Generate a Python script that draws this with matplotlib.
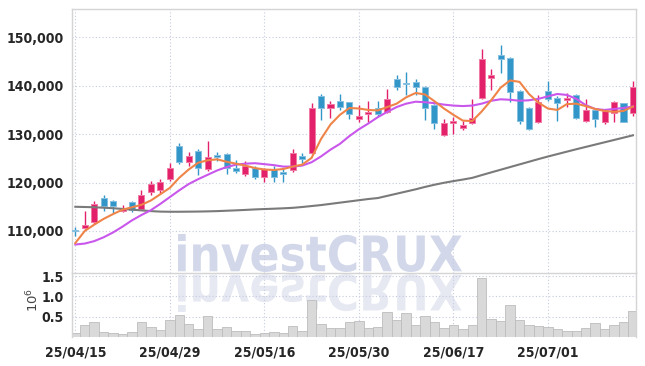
import numpy as np
import matplotlib
matplotlib.use('Agg')
from matplotlib import pyplot as plt
from matplotlib import font_manager
from matplotlib.textpath import TextPath
from matplotlib.patches import PathPatch
from matplotlib.font_manager import FontProperties
from matplotlib.transforms import Affine2D, IdentityTransform

# trading days (category axis)
dates = ['25/04/15', '25/04/16', '25/04/17', '25/04/18', '25/04/21', '25/04/22', '25/04/23', '25/04/24', '25/04/25', '25/04/28',
         '25/04/29', '25/04/30', '25/05/02', '25/05/07', '25/05/08', '25/05/09', '25/05/12', '25/05/13', '25/05/14', '25/05/15',
         '25/05/16', '25/05/19', '25/05/20', '25/05/21', '25/05/22', '25/05/23', '25/05/26', '25/05/27', '25/05/28', '25/05/29',
         '25/05/30', '25/06/02', '25/06/04', '25/06/05', '25/06/09', '25/06/10', '25/06/11', '25/06/12', '25/06/13', '25/06/16',
         '25/06/17', '25/06/18', '25/06/19', '25/06/20', '25/06/23', '25/06/24', '25/06/25', '25/06/26', '25/06/27', '25/06/30',
         '25/07/01', '25/07/02', '25/07/03', '25/07/04', '25/07/07', '25/07/08', '25/07/09', '25/07/10', '25/07/11', '25/07/14']

opens = [110000, 110600, 111800, 116800, 116200, 114200, 116000, 114500, 118000, 118500,
         120700, 127500, 124200, 126500, 122800, 125700, 125800, 123100, 121800, 123100,
         121200, 122800, 122200, 122500, 125500, 126200, 137900, 135400, 136800, 136600,
         133200, 134100, 135400, 134500, 141400, 140600, 140700, 139700, 136100, 129900,
         132400, 131300, 132400, 137500, 141700, 146300, 145800, 138900, 135500, 132600,
         139000, 137500, 137000, 138100, 132800, 135000, 132600, 134400, 136400, 134300]
highs = [110900, 114100, 116200, 117400, 116400, 115400, 116100, 118400, 120300, 120700,
         124000, 128100, 126300, 127000, 128600, 126400, 126200, 124600, 124400, 123400,
         123100, 123400, 123100, 126900, 126200, 136400, 138200, 136800, 138200, 136700,
         136100, 136900, 136900, 139300, 142200, 142900, 141400, 139900, 136300, 133100,
         133500, 132800, 137200, 147500, 143500, 148400, 145900, 139100, 135700, 138100,
         141000, 137900, 138400, 138200, 137200, 135100, 135000, 136800, 136500, 141000]
lows = [109000, 110400, 111400, 114200, 113800, 113900, 114000, 114300, 117400, 117900,
        120400, 123800, 123500, 121600, 122300, 124400, 121800, 121900, 121300, 120700,
        120200, 120100, 120100, 122100, 124000, 126000, 132900, 133400, 135000, 133100,
        132600, 132600, 133700, 134300, 139100, 138100, 138000, 132900, 131000, 129700,
        130100, 130900, 132100, 137200, 139100, 142600, 136700, 132100, 130800, 132300,
        136900, 132800, 135700, 133100, 132500, 131400, 132100, 132600, 132500, 133800]
closes = [109900, 111300, 115600, 115200, 115200, 114700, 114300, 117400, 119800, 120100,
          123000, 124300, 125500, 123100, 125200, 125300, 123100, 122400, 123400, 121200,
          122900, 121100, 121800, 126200, 124900, 135400, 135400, 136200, 135700, 134200,
          133700, 134500, 134200, 137300, 139800, 140400, 139700, 135500, 132200, 132400,
          132800, 131800, 133300, 145500, 142200, 145600, 138800, 132800, 131100, 136600,
          137300, 136500, 137500, 133400, 135000, 133200, 134800, 136600, 132600, 139700]

# volume, millions of shares
vol_m = [0.11, 0.29, 0.37, 0.12, 0.09, 0.07, 0.12, 0.37, 0.24, 0.17,
         0.41, 0.53, 0.32, 0.20, 0.51, 0.20, 0.25, 0.16, 0.16, 0.07,
         0.10, 0.12, 0.10, 0.27, 0.15, 0.91, 0.31, 0.21, 0.21, 0.36,
         0.39, 0.21, 0.24, 0.61, 0.42, 0.58, 0.29, 0.51, 0.37, 0.21,
         0.29, 0.19, 0.29, 1.45, 0.44, 0.39, 0.79, 0.42, 0.29, 0.26,
         0.24, 0.19, 0.16, 0.16, 0.21, 0.34, 0.19, 0.29, 0.36, 0.63]

# moving average lines as drawn
ma_short = [107500, 110000, 111300, 112500, 113500, 114400, 114900, 115400, 116300, 117600,
            118900, 121000, 122700, 124100, 124600, 124800, 124300, 123900, 123500, 123000,
            122700, 122600, 122800, 123300, 123700, 125100, 129000, 132000, 134000, 135400,
            135300, 135000, 134900, 135600, 136300, 137600, 138500, 138200, 136800, 135300,
            134000, 132800, 132700, 134700, 137000, 139600, 141100, 140800, 138300, 136500,
            135300, 135000, 136200, 136300, 135800, 135200, 134800, 134600, 134800, 135700]
ma_mid = [107200, 107400, 107900, 108700, 109700, 110900, 112200, 113300, 114300, 115600,
          117000, 118400, 119700, 120700, 121600, 122500, 123200, 123700, 123900, 124000,
          123800, 123600, 123300, 123300, 123500, 124200, 125400, 126800, 128000, 129600,
          131000, 132200, 133500, 134600, 135600, 136300, 136700, 136600, 136400, 136100,
          135900, 135800, 135900, 136300, 136900, 137200, 137100, 136900, 137000, 137300,
          137800, 138300, 138100, 137300, 136000, 135200, 135000, 135200, 135400, 135700]
ma_long = [115000, 114950, 114900, 114800, 114700, 114550, 114400, 114250, 114100, 114000,
           113970, 113970, 113990, 114010, 114050, 114100, 114180, 114260, 114350, 114450,
           114530, 114600, 114680, 114780, 114950, 115150, 115350, 115600, 115850, 116100,
           116350, 116600, 116800, 117250, 117700, 118150, 118600, 119100, 119550, 119950,
           120300, 120620, 120970, 121540, 122100, 122650, 123200, 123750, 124300, 124850,
           125380, 125880, 126380, 126880, 127360, 127840, 128320, 128800, 129280, 129760]

UP = '#e3206a'
UP_EDGE = '#f07aa3'
DOWN = '#3396c8'
DOWN_EDGE = '#85bfe0'
GRID = '#c6cbdf'
SPINE = '#d4d4d4'
TXT = '#262626'

# narrow bold face for the tick labels, if a condensed one is installed
cond = FontProperties(family='DejaVu Sans', stretch='condensed', weight='bold')
if 'Condensed' in font_manager.findfont(cond, fallback_to_default=True):
    tick_font = dict(family='DejaVu Sans', stretch='condensed', weight='bold', size=10)
else:
    tick_font = dict(family='Roboto', weight='bold', size=9.5)

W, H = 645, 366
fig = plt.figure(figsize=(W / 100, H / 100), dpi=100)
fig.patch.set_facecolor('white')

left, right = 72, 635.5
top, split, bottom = 9.3, 272.7, 337
ax = fig.add_axes([left / W, 1 - split / H, (right - left) / W, (split - top) / H])
axv = fig.add_axes([left / W, 1 - bottom / H, (right - left) / W, (bottom - split) / H])
for a in (ax, axv):
    a.set_facecolor('none')

x = np.arange(len(dates))
o = np.array(opens)
c = np.array(closes)
up = c >= o

# wicks and bodies
ax.vlines(x[up], np.array(lows)[up], np.array(highs)[up], color=UP, lw=1.0, zorder=2)
ax.vlines(x[~up], np.array(lows)[~up], np.array(highs)[~up], color=DOWN, lw=1.0, zorder=2)
body_lo = np.minimum(o, c)
body_h = np.maximum(np.abs(c - o), 200)
ax.bar(x[up], body_h[up], bottom=body_lo[up], width=0.64, color=UP,
       edgecolor=UP_EDGE, linewidth=0.7, zorder=3)
ax.bar(x[~up], body_h[~up], bottom=body_lo[~up], width=0.64, color=DOWN,
       edgecolor=DOWN_EDGE, linewidth=0.7, zorder=3)

ax.plot(x, ma_long, color='#7a7a7a', lw=1.5, zorder=4)
ax.plot(x, ma_mid, color='#c957ec', lw=1.5, zorder=4)
ax.plot(x, ma_short, color='#ef8448', lw=1.5, zorder=5)

ax.set_xlim(-0.35, 59.27)
ax.set_ylim(101380, 155790)
yt = [110000, 120000, 130000, 140000, 150000]
ax.set_yticks(yt)
ax.set_yticklabels([f'{v:,}' for v in yt], **tick_font)

axv.bar(x, vol_m, width=1.0, color='#d9d9d9', edgecolor='#bdbdbd', linewidth=0.6, zorder=2)
axv.set_xlim(-0.35, 59.27)
axv.set_ylim(0, 1.584)
axv.set_yticks([0.5, 1.0, 1.5])
axv.set_yticklabels(['0.5', '1.0', '1.5'], **tick_font)

tick_idx = [0, 10, 20, 30, 40, 50]
for a in (ax, axv):
    a.set_xticks(tick_idx)
    a.grid(True, ls=(0, (1, 2)), color=GRID, lw=0.8, zorder=0)
    a.tick_params(length=0, colors=TXT, pad=6)
    for s in a.spines.values():
        s.set_color(SPINE)
        s.set_linewidth(1.0)
ax.set_xticklabels([])
axv.set_xticklabels([dates[i] for i in tick_idx], **tick_font)
axv.spines['bottom'].set_visible(False)
ax.spines['bottom'].set_visible(False)

fig.text(33 / W, 1 - 300 / H, r'$10^{6}$', rotation=90, ha='center', va='center',
         fontsize=9.5, color='#444444', family='DejaVu Sans')

# watermark with mirrored reflection
tp = TextPath((0, 0), 'investCRUX', size=40,
              prop=FontProperties(family='DejaVu Sans', weight='bold'))
ext = tp.get_extents()
sx = (462 - 178) / ext.width
sy = (272 - 234) / ext.height
base = Affine2D().translate(-ext.x0, -ext.y0)
wm = PathPatch(tp, transform=base + Affine2D().scale(sx, sy).translate(178, H - 272) + IdentityTransform(),
               facecolor='#d2d8ea', edgecolor='none', zorder=-1)
refl = PathPatch(tp, transform=base + Affine2D().scale(sx, -sy).translate(178, H - 274) + IdentityTransform(),
                 facecolor='#e6e9f2', edgecolor='none', zorder=-1)
fig.add_artist(wm)
fig.add_artist(refl)

fig.savefig('out.png', dpi=100)
